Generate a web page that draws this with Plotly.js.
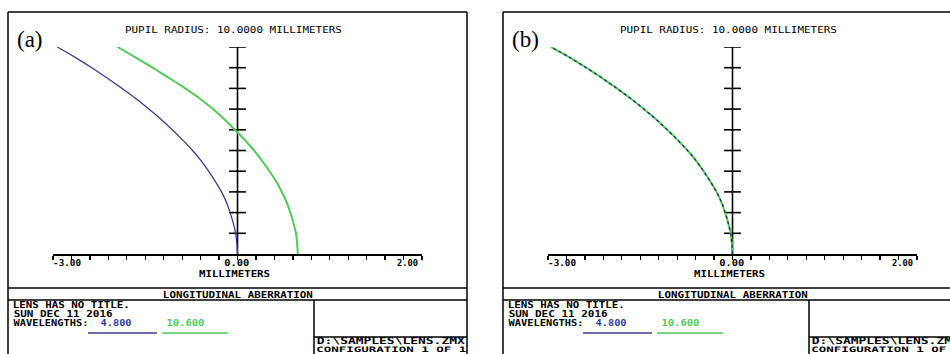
<!DOCTYPE html>
<html>
<head>
<meta charset="utf-8">
<script src="https://cdn.plot.ly/plotly-3.0.1.min.js"></script>
<style>html,body{margin:0;padding:0;background:#fff;}#chart{width:950px;height:354px;}</style>
</head>
<body>
<div id="chart"></div>
<script>
// ---- data ----
const pupil = [0, 0.05, 0.1, 0.15, 0.2, 0.25, 0.3, 0.35, 0.4, 0.45, 0.5, 0.55, 0.6, 0.65, 0.7, 0.75, 0.8, 0.85, 0.9, 0.95, 1.0];
// panel (a)
const blueA  = [0, -0.01, -0.03, -0.07, -0.12, -0.18, -0.26, -0.36, -0.47, -0.59, -0.73, -0.89, -1.06, -1.24, -1.44, -1.65, -1.88, -2.12, -2.37, -2.64, -2.93];
const greenA = [0.98, 0.97, 0.95, 0.91, 0.86, 0.80, 0.72, 0.63, 0.52, 0.40, 0.27, 0.12, -0.04, -0.21, -0.40, -0.61, -0.85, -1.11, -1.38, -1.66, -1.95];
// panel (b) : both wavelengths coincide
const blueB  = [0, -0.01, -0.03, -0.07, -0.12, -0.18, -0.26, -0.36, -0.47, -0.59, -0.73, -0.89, -1.06, -1.24, -1.44, -1.65, -1.88, -2.12, -2.38, -2.65, -2.95];
const greenB = [0, -0.01, -0.03, -0.07, -0.12, -0.18, -0.26, -0.36, -0.47, -0.59, -0.73, -0.89, -1.06, -1.24, -1.44, -1.65, -1.88, -2.12, -2.38, -2.65, -2.95];
const xTicks = [-3, -2.7, -2.4, -2.1, -1.8, -1.5, -1.2, -0.9, -0.6, -0.3, 0, 0.3, 0.6, 0.9, 1.2, 1.5, 1.8, 2.1, 2.4, 2.7, 3];
const yTicks = [0.1, 0.2, 0.3, 0.4, 0.5, 0.6, 0.7, 0.8, 0.9, 1.0];
const xTickText = ["-3.00", "0.00", "2.00"];
const panelLabels = ["(a)", "(b)"];
const titleText = "PUPIL RADIUS: 10.0000 MILLIMETERS";
const xTitle = "MILLIMETERS";
const footTitle = "LONGITUDINAL ABERRATION";
const infoLines = ["LENS HAS NO TITLE.", "SUN DEC 11 2016", "WAVELENGTHS:"];
const wavelengths = ["4.800", "10.600"];
const fileLines = ["D:\\SAMPLES\\LENS.ZMX", "CONFIGURATION 1 OF 1"];

// ---- styling ----
const W = 950, H = 354;
const BLUE = "#3b3b8e", GREEN = "#52c95a", BLUE_TXT = "#2e3f9e";
const MONO = "DejaVu Sans Mono, monospace";
const px = x => x / W;
const py = y => 1 - y / H;

const OFF = [0, 495];
const data = [];
const stretch = []; // target widths (px) per annotation index, null = leave
const layout = {
  width: W, height: H,
  margin: {l: 0, r: 0, t: 0, b: 0},
  paper_bgcolor: "#fff", plot_bgcolor: "rgba(0,0,0,0)",
  showlegend: false,
  shapes: [], annotations: []
};

function addPanel(i, series) {
  const o = OFF[i];
  const xa = i === 0 ? "xaxis" : "xaxis2";
  const ya = i === 0 ? "yaxis" : "yaxis2";
  const xr = i === 0 ? "x" : "x2";
  const yr = i === 0 ? "y" : "y2";
  const xDom = [px(53 + o), px(422 + o)];
  const yDom = [py(254), py(47)];
  layout[xa] = {
    domain: xDom, range: [-3, 3], anchor: yr,
    showline: true, linecolor: "#000", linewidth: 1.5,
    ticks: "outside", ticklen: 4, tickwidth: 1.3, tickcolor: "#000",
    tickmode: "array", tickvals: xTicks, showticklabels: false,
    showgrid: false, zeroline: false, fixedrange: true
  };
  layout[ya] = {
    domain: yDom, range: [0, 1], anchor: xr,
    visible: false, fixedrange: true
  };

  // vertical (pupil) axis with cross ticks, drawn at x = 0
  data.push({
    type: "scatter", mode: "lines", x: [0, 0], y: [0, 1], xaxis: xr, yaxis: yr,
    line: {color: "#000", width: 1.6}, hoverinfo: "skip"
  });
  data.push({
    type: "scatter", mode: "markers", x: yTicks.map(() => 0), y: yTicks, xaxis: xr, yaxis: yr,
    marker: {symbol: "line-ew", size: 12, color: "#000", line: {color: "#000", width: 1.6}},
    hoverinfo: "skip"
  });

  series.forEach(s => {
    data.push({
      type: "scatter", mode: "lines", x: s.x, y: pupil, xaxis: xr, yaxis: yr,
      line: {color: s.color, width: s.width, dash: s.dash || "solid", shape: "spline", smoothing: 1},
      hoverinfo: "skip"
    });
  });

  // frame and boxes
  const L = (x0, y0, x1, y1, w, c) => layout.shapes.push({
    type: "line", xref: "paper", yref: "paper",
    x0: px(x0), y0: py(y0), x1: px(x1), y1: py(y1),
    line: {color: c || "#000", width: w || 1.5}
  });
  L(8 + o, 12, 467 + o, 12);
  L(8 + o, 12, 8 + o, 354);
  L(467 + o, 12, 467 + o, 354);
  L(8 + o, 288, 467 + o, 288);
  L(8 + o, 300, 467 + o, 300);
  L(314 + o, 300, 314 + o, 354);
  L(314 + o, 337, 467 + o, 337);
  L(88 + o, 333, 157 + o, 333, 1.5, BLUE);
  L(162 + o, 333, 228 + o, 333, 1.5, GREEN);

  // text: centre x, centre y, target width, size
  const A = (text, cx, cy, w, size, color, family, weight) => {
    layout.annotations.push({
      text: text, xref: "paper", yref: "paper", x: px(cx), y: py(cy),
      xanchor: "center", yanchor: "middle", showarrow: false, borderpad: 0,
      font: {family: family || MONO, size: size, color: color || "#000", weight: weight || "bold"}
    });
    stretch.push(w);
  };
  A(panelLabels[i], 30 + o, 39, null, 23, "#000", "Liberation Serif, Times New Roman, serif", "normal");
  A(titleText, 233.5 + o, 29.5, 217, 9, "#000", MONO, "normal");
  A(xTickText[0], 67 + o, 263.5, 28, 8);
  A(xTickText[1], 236 + o, 263.5, 25, 8);
  A(xTickText[2], 407 + o, 263.5, 21, 8);
  A(xTitle, 234.5 + o, 274.5, 71, 8);
  A(footTitle, 238 + o, 294.5, 150, 8.5);
  A(infoLines[0], 71.5 + o, 305.5, 117, 8);
  A(infoLines[1], 62.5 + o, 314.5, 99, 8);
  A(infoLines[2], 50.5 + o, 323.5, 75, 8);
  A(wavelengths[0], 115.5 + o, 323.5, 31, 8, BLUE_TXT);
  A(wavelengths[1], 185 + o, 323.5, 38, 8, GREEN);
  A(fileLines[0], 391 + o, 341, 148, 8);
  A(fileLines[1], 391 + o, 349.8, 150, 7.5);
}

addPanel(0, [
  {x: blueA, color: BLUE, width: 1.3},
  {x: greenA, color: GREEN, width: 2}
]);
addPanel(1, [
  {x: greenB, color: GREEN, width: 2},
  {x: blueB, color: "#22306a", width: 1.3, dash: "dot"}
]);

Plotly.newPlot("chart", data, layout, {staticPlot: true, displayModeBar: false}).then(gd => {
  gd.querySelectorAll("g.annotation").forEach(g => {
    const idx = +g.getAttribute("data-index");
    const w = stretch[idx];
    if (!w) return;
    const t = g.querySelector("text.annotation-text");
    if (!t) return;
    t.setAttribute("textLength", w);
    t.setAttribute("lengthAdjust", "spacingAndGlyphs");
  });
});
</script>
</body>
</html>
